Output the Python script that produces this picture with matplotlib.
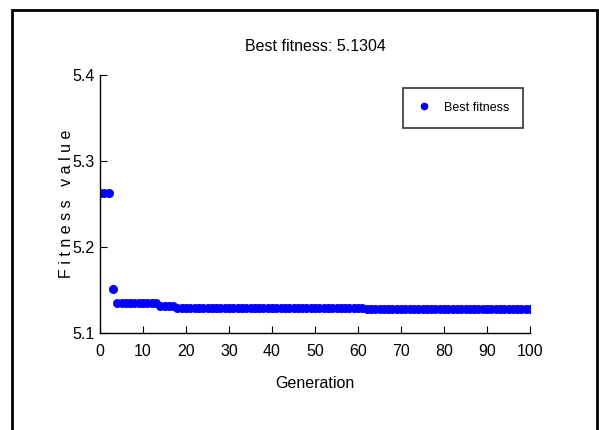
import matplotlib
matplotlib.use("Agg")
import matplotlib.pyplot as plt
from matplotlib.patches import Rectangle
from matplotlib.lines import Line2D

# Data
generations = list(range(0, 101))
best_fitness = ([5.263] * 3 + [5.151] + [5.1345] * 10 + [5.1317] * 4
                + [5.1294] * 44 + [5.1276] * 39)
x_ticks = [0, 10, 20, 30, 40, 50, 60, 70, 80, 90, 100]
y_ticks = [5.1, 5.2, 5.3, 5.4]
y_tick_labels = ["5.1", "5.2", "5.3", "5.4"]
title_text = "Best fitness: 5.1304"
legend_label = "Best fitness"

FONT = ["Liberation Sans", "DejaVu Sans"]
plt.rcParams['font.family'] = FONT

fig = plt.figure(figsize=(5.99, 4.30), dpi=100)
fig.patch.set_facecolor("white")

# outer frame
fig.patches.append(Rectangle((12/599, -0.05), (597-12)/599, 1.05 - 10/430,
                             transform=fig.transFigure, fill=False,
                             edgecolor="black", linewidth=2.0))

ax = fig.add_axes([100/599, 1 - 333/430, 430/599, 258/430])
ax.plot(generations, best_fitness, linestyle="none", marker="o",
        markersize=6.5, color="#0000ff", markeredgewidth=0)

ax.set_xlim(0, 100)
ax.set_ylim(5.1, 5.4)
ax.set_xticks(x_ticks)
ax.set_yticks(y_ticks)
ax.set_yticklabels(y_tick_labels)
ax.spines["top"].set_visible(False)
ax.spines["right"].set_visible(False)
ax.spines["left"].set_linewidth(1.0)
ax.spines["bottom"].set_linewidth(1.0)
ax.tick_params(direction="in", length=5, width=0.8, labelsize=11.5)
ax.tick_params(axis="x", pad=8)
ax.tick_params(axis="y", pad=4)

ax.set_title(title_text, fontsize=11.5, pad=17)
ax.set_xlabel("Generation", fontsize=11.5, labelpad=12)
ax.text(-0.078, 0.5, "F i t n e s s   v a l u e", transform=ax.transAxes,
        rotation=90, ha="center", va="center", fontsize=11.5)

handle = Line2D([], [], linestyle="none", marker="o", markersize=5.5,
                color="#0000ff", markeredgewidth=0)
leg = ax.legend([handle], [legend_label], loc="upper right",
                bbox_to_anchor=(523/599, 1 - 88/430), bbox_transform=fig.transFigure,
                fontsize=9, frameon=True, fancybox=False, borderpad=1.1,
                handlelength=1.2, handletextpad=1.0, borderaxespad=0)
leg.get_frame().set_edgecolor("black")
leg.get_frame().set_linewidth(1.2)

fig.savefig("out.png", dpi=100)
